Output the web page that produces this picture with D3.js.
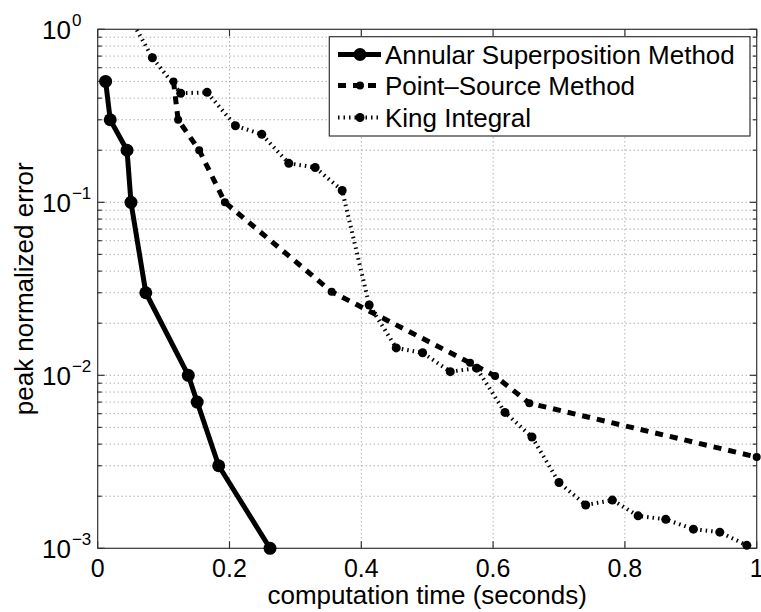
<!DOCTYPE html>
<html>
<head>
<meta charset="utf-8">
<script src="https://cdn.jsdelivr.net/npm/d3@7"></script>
<style>
  body { margin: 0; background: #fff; }
  text { font-family: "Liberation Sans", Arial, Helvetica, sans-serif; fill: #000; }
</style>
</head>
<body>
<svg id="chart"></svg>
<script>
// Error vs computation time, log y axis (MATLAB-style figure)

const annularTime  = [0.012, 0.019, 0.0445, 0.0505, 0.073, 0.1375, 0.151, 0.1836, 0.2615];
const annularError = [0.5, 0.30, 0.2, 0.1, 0.03, 0.01, 0.007, 0.003, 0.001];

const pointTime  = [0.115, 0.122, 0.154, 0.193, 0.355, 0.565, 0.603, 0.655, 1.0];
const pointError = [0.5, 0.30, 0.2, 0.1, 0.0304, 0.0118, 0.0099, 0.0069, 0.00337];

const kingTime  = [0.043, 0.083, 0.126, 0.166, 0.209, 0.249, 0.290, 0.330, 0.371, 0.412, 0.453, 0.493,
                   0.535, 0.575, 0.618, 0.659, 0.700, 0.7405, 0.781, 0.820, 0.862, 0.904, 0.944, 0.985];
const kingError = [1.28, 0.685, 0.427, 0.432, 0.277, 0.247, 0.168, 0.159, 0.117, 0.0255, 0.0144, 0.0135,
                   0.0105, 0.011, 0.0061, 0.0044, 0.0024, 0.00178, 0.0019, 0.00154, 0.00147, 0.00129, 0.00124, 0.00104];

const seriesNames = ["Annular Superposition Method", "Point\u2013Source Method", "King Integral"];

const xTicks = [0, 0.2, 0.4, 0.6, 0.8, 1];
const xTickLabels = ["0", "0.2", "0.4", "0.6", "0.8", "1"];
const yTicks = [1e-3, 1e-2, 1e-1, 1];
const yTickExps = ["\u22123", "\u22122", "\u22121", "0"];

const svgWidth = 761;
const svgHeight = 612;
const plot = { left: 97.7, right: 756.7, top: 29.3, bottom: 548.3 };

const svg = d3.select("#chart")
    .attr("width", svgWidth)
    .attr("height", svgHeight);

const x = d3.scaleLinear().domain([0, 1]).range([plot.left, plot.right]);
const y = d3.scaleLog().domain([1e-3, 1]).range([plot.bottom, plot.top]);

// minor decade values 2..9
const minorY = [];
[1e-3, 1e-2, 1e-1].forEach(d => {
    for (let k = 2; k <= 9; k++) minorY.push(d * k);
});

svg.append("defs").append("clipPath")
    .attr("id", "plot-clip")
    .append("rect")
    .attr("x", plot.left)
    .attr("y", plot.top)
    .attr("width", plot.right - plot.left)
    .attr("height", plot.bottom - plot.top);

// grid
const grid = svg.append("g")
    .attr("stroke", "#8a8a8a")
    .attr("stroke-width", 1)
    .attr("stroke-dasharray", "1,3");

grid.selectAll(".gx")
    .data(xTicks.slice(1, -1))
    .join("line")
    .attr("x1", d => x(d)).attr("x2", d => x(d))
    .attr("y1", plot.top).attr("y2", plot.bottom);

grid.selectAll(".gy")
    .data(yTicks.slice(1, -1).concat(minorY))
    .join("line")
    .attr("x1", plot.left).attr("x2", plot.right)
    .attr("y1", d => y(d)).attr("y2", d => y(d));

// axes box + inward ticks
const axes = svg.append("g")
    .attr("stroke", "#333")
    .attr("stroke-width", 1.2);

axes.append("rect")
    .attr("x", plot.left).attr("y", plot.top)
    .attr("width", plot.right - plot.left)
    .attr("height", plot.bottom - plot.top)
    .attr("fill", "none");

const majorLen = 7, minorLen = 4;
xTicks.forEach(t => {
    axes.append("line").attr("x1", x(t)).attr("x2", x(t))
        .attr("y1", plot.bottom).attr("y2", plot.bottom - majorLen);
    axes.append("line").attr("x1", x(t)).attr("x2", x(t))
        .attr("y1", plot.top).attr("y2", plot.top + majorLen);
});
yTicks.forEach(t => {
    axes.append("line").attr("x1", plot.left).attr("x2", plot.left + majorLen)
        .attr("y1", y(t)).attr("y2", y(t));
    axes.append("line").attr("x1", plot.right).attr("x2", plot.right - majorLen)
        .attr("y1", y(t)).attr("y2", y(t));
});
minorY.forEach(t => {
    axes.append("line").attr("x1", plot.left).attr("x2", plot.left + minorLen)
        .attr("y1", y(t)).attr("y2", y(t));
    axes.append("line").attr("x1", plot.right).attr("x2", plot.right - minorLen)
        .attr("y1", y(t)).attr("y2", y(t));
});

// tick labels
svg.selectAll(".xlab")
    .data(xTicks)
    .join("text")
    .attr("x", d => x(d))
    .attr("y", 577)
    .attr("text-anchor", "middle")
    .attr("font-size", 25)
    .text((d, i) => xTickLabels[i]);

yTicks.forEach((t, i) => {
    const label = svg.append("text")
        .attr("x", 42)
        .attr("y", y(t) + 10)
        .attr("font-size", 26);
    label.append("tspan").text("10");
    label.append("tspan")
        .attr("dy", -13)
        .attr("dx", 1)
        .attr("font-size", 17)
        .text(yTickExps[i]);
});

// axis titles
svg.append("text")
    .attr("x", (plot.left + plot.right) / 2)
    .attr("y", 604)
    .attr("text-anchor", "middle")
    .attr("font-size", 26)
    .text("computation time (seconds)");

svg.append("text")
    .attr("transform", `translate(33, ${(plot.top + plot.bottom) / 2}) rotate(-90)`)
    .attr("text-anchor", "middle")
    .attr("font-size", 26)
    .text("peak normalized error");

// series
const series = [
    { name: seriesNames[0], t: annularTime, e: annularError, width: 5, dash: null, r: 6.5 },
    { name: seriesNames[1], t: pointTime, e: pointError, width: 5, dash: "8,7", r: 4 },
    { name: seriesNames[2], t: kingTime, e: kingError, width: 4, dash: "1.5,4", r: 4.5 }
];

const line = d3.line()
    .x(d => x(d[0]))
    .y(d => y(d[1]));

series.forEach(s => {
    const pts = s.t.map((v, i) => [v, s.e[i]]);
    svg.append("path")
        .datum(pts)
        .attr("clip-path", "url(#plot-clip)")
        .attr("fill", "none")
        .attr("stroke", "#000")
        .attr("stroke-width", s.width)
        .attr("stroke-dasharray", s.dash)
        .attr("stroke-linejoin", "round")
        .attr("d", line);

    svg.append("g")
        .selectAll("circle")
        .data(pts.filter(p => p[1] <= 1))
        .join("circle")
        .attr("cx", d => x(d[0]))
        .attr("cy", d => y(d[1]))
        .attr("r", s.r)
        .attr("fill", "#000");
});

// legend
const legend = svg.append("g");
legend.append("rect")
    .attr("x", 329.3).attr("y", 36.7)
    .attr("width", 420.7).attr("height", 99.3)
    .attr("fill", "#fff")
    .attr("stroke", "#333")
    .attr("stroke-width", 1.2);

const rowBase = [63.5, 94.5, 126.5];
series.forEach((s, i) => {
    const cy = rowBase[i] - 9;
    legend.append("line")
        .attr("x1", 338).attr("x2", 381)
        .attr("y1", cy).attr("y2", cy)
        .attr("stroke", "#000")
        .attr("stroke-width", s.width)
        .attr("stroke-dasharray", s.dash);
    legend.append("circle")
        .attr("cx", 360).attr("cy", cy)
        .attr("r", s.r)
        .attr("fill", "#000");
    legend.append("text")
        .attr("x", 385)
        .attr("y", rowBase[i])
        .attr("font-size", 26)
        .text(s.name);
});
</script>
</body>
</html>
